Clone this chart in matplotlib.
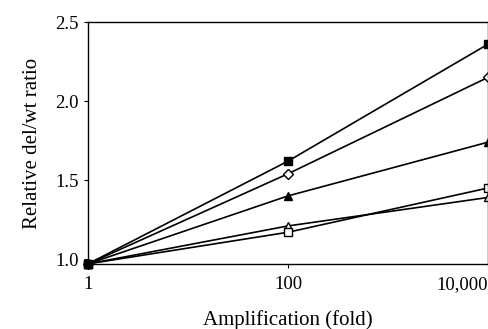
import matplotlib
matplotlib.use("Agg")
import matplotlib.pyplot as plt

plt.rcParams['font.family'] = ['Liberation Serif', 'DejaVu Serif']

# amplification (fold) and relative del/wt ratio per series
amplification = [1, 100, 10000]
filled_square = [0.97, 1.62, 2.36]
open_diamond = [0.97, 1.54, 2.15]
filled_triangle = [0.97, 1.40, 1.74]
open_square = [0.97, 1.17, 1.45]
open_triangle = [0.97, 1.21, 1.39]

x_ticks = [1, 100, 10000]
x_labels = ["1", "100", "10,000"]
y_ticks = [1.0, 1.5, 2.0, 2.5]

fig = plt.figure(figsize=(4.89, 3.29), dpi=100)
ax = fig.add_axes([0.18, 0.198, 0.818, 0.735])

style = dict(color='black', linewidth=1.2, clip_on=False)
ax.plot(amplification, open_triangle, marker='^', markerfacecolor='white', markersize=6, **style)
ax.plot(amplification, open_square, marker='s', markerfacecolor='white', markersize=6, **style)
ax.plot(amplification, filled_triangle, marker='^', markerfacecolor='black', markersize=6, **style)
ax.plot(amplification, open_diamond, marker='D', markerfacecolor='white', markersize=5, **style)
ax.plot(amplification, filled_square, marker='s', markerfacecolor='black', markersize=6, **style)

ax.set_xscale('log')
ax.set_xlim(1, 10000)
ax.set_ylim(0.97, 2.5)
ax.set_xticks(x_ticks)
ax.set_xticklabels(x_labels)
ax.minorticks_off()
ax.set_yticks(y_ticks)
ax.set_yticklabels([f"{v:.1f}" for v in y_ticks])
ax.tick_params(labelsize=13.5, length=3, direction='out')
ax.tick_params(axis='x', pad=6)
ax.get_xticklabels()[-1].set_horizontalalignment('right')

ax.set_xlabel("Amplification (fold)", fontsize=15, labelpad=12)
ax.set_ylabel("Relative del/wt ratio", fontsize=15, labelpad=10)

for s in ax.spines.values():
    s.set_linewidth(1.0)

fig.savefig("out.png", dpi=100)
